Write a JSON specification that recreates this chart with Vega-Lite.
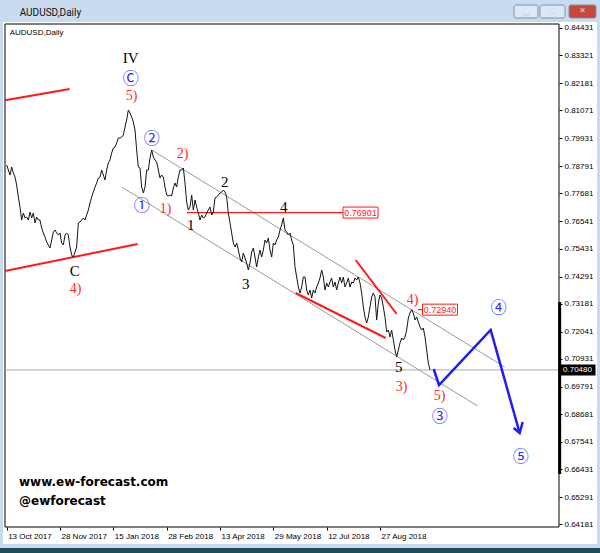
{
  "$schema": "https://vega.github.io/schema/vega-lite/v6.json",
  "width": 554,
  "height": 503,
  "autosize": {"type": "none"},
  "padding": {"left": 5, "top": 24, "right": 41, "bottom": 26},
  "background": "#ffffff",
  "config": {
    "view": {"stroke": null}
  },
  "datasets": {
    "windowParts": [
      {"part":"titleBar","bar":-6,"bar2":358,"price":0.8625,"price2":0.84675},
      {"part":"leftEdge","bar":-6,"bar2":-2.2,"price":0.8625,"price2":0.6272},
      {"part":"rightEdge","bar":354.2,"bar2":358,"price":0.8625,"price2":0.6272},
      {"part":"bottomEdge","bar":-6,"bar2":358,"price":0.63378,"price2":0.63215},
      {"part":"taskbar","bar":-6,"bar2":358,"price":0.63215,"price2":0.6272}
    ],
    "buttons": [
      {"button":"minimize","bar":304.4,"bar2":318.8,"price":0.85369,"price2":0.84839},
      {"button":"maximize","bar":320,"bar2":335,"price":0.85369,"price2":0.84839},
      {"button":"close","bar":337.4,"bar2":353.6,"price":0.85369,"price2":0.84839}
    ],
    "buttonGlyphs": [
      {"button":"minimize","bar":311.6,"price":0.8498,"label":"▬"},
      {"button":"maximize","bar":327.5,"price":0.85104,"label":"□"},
      {"button":"close","bar":345.5,"price":0.85104,"label":"✕"}
    ],
    "caption": [
      {"bar":7.8,"price":0.85063,"label":"AUDUSD,Daily"}
    ],
    "plotFrame": [
      {"bar":-1,"bar2":331.4,"price":0.84594,"price2":0.64072}
    ],
    "lastClose": [
      {"bar":-1,"bar2":331.4,"price":0.7048}
    ],
    "scaleMarker": [
      {"bar":331.8,"price":0.73251,"price2":0.66234}
    ],
    "price": [
      {"bar":0,"price":0.78841},{"bar":1,"price":0.78637},{"bar":2,"price":0.78433},{"bar":3,"price":0.78759},{"bar":4,"price":0.78515},{"bar":5,"price":0.78351},{"bar":6,"price":0.78025},{"bar":7,"price":0.77535},{"bar":8,"price":0.77127},{"bar":9,"price":0.76597},
      {"bar":10,"price":0.76883},{"bar":11,"price":0.76679},{"bar":12,"price":0.76719},{"bar":13,"price":0.76597},{"bar":14,"price":0.76923},{"bar":15,"price":0.76679},{"bar":16,"price":0.76883},{"bar":17,"price":0.76475},{"bar":18,"price":0.76719},{"bar":19,"price":0.76597},
      {"bar":20,"price":0.76597},{"bar":21,"price":0.76271},{"bar":22,"price":0.76067},{"bar":23,"price":0.75903},{"bar":24,"price":0.75699},{"bar":26,"price":0.75455},{"bar":27,"price":0.75781},{"bar":28,"price":0.76107},{"bar":29,"price":0.76189},
      {"bar":30,"price":0.76067},{"bar":31,"price":0.75985},{"bar":32,"price":0.76067},{"bar":33,"price":0.75659},{"bar":34,"price":0.75577},{"bar":35,"price":0.75985},{"bar":36,"price":0.76067},{"bar":37,"price":0.75985},{"bar":38,"price":0.75495},{"bar":39,"price":0.75169},
      {"bar":40,"price":0.75087},{"bar":41,"price":0.75291},{"bar":42,"price":0.75495},{"bar":43,"price":0.76475},{"bar":44,"price":0.76515},{"bar":45,"price":0.76597},{"bar":46,"price":0.76679},{"bar":47,"price":0.76597},{"bar":48,"price":0.76801},{"bar":49,"price":0.77005},
      {"bar":50,"price":0.77291},{"bar":51,"price":0.77535},{"bar":52,"price":0.77739},{"bar":53,"price":0.77943},{"bar":54,"price":0.78107},{"bar":55,"price":0.78311},{"bar":56,"price":0.78351},{"bar":57,"price":0.78637},{"bar":58,"price":0.78433},{"bar":59,"price":0.78229},
      {"bar":60,"price":0.78637},{"bar":61,"price":0.78923},{"bar":62,"price":0.79045},{"bar":63,"price":0.79331},{"bar":64,"price":0.79535},{"bar":65,"price":0.79575},{"bar":66,"price":0.79739},{"bar":67,"price":0.79943},{"bar":68,"price":0.79943},{"bar":69,"price":0.79983},
      {"bar":70,"price":0.80065},{"bar":71,"price":0.80391},{"bar":72,"price":0.80677},{"bar":73,"price":0.81085},{"bar":74,"price":0.80963},{"bar":75,"price":0.80799},{"bar":76,"price":0.80595},{"bar":77,"price":0.80269},{"bar":78,"price":0.79453},{"bar":79,"price":0.78759},
      {"bar":80,"price":0.78719},{"bar":81,"price":0.77943},{"bar":82,"price":0.77699},{"bar":83,"price":0.77943},{"bar":84,"price":0.78637},{"bar":85,"price":0.78637},{"bar":86,"price":0.79127},{"bar":87,"price":0.79453},{"bar":88,"price":0.79167},{"bar":89,"price":0.79045},
      {"bar":90,"price":0.78963},{"bar":91,"price":0.78637},{"bar":92,"price":0.78311},{"bar":93,"price":0.78433},{"bar":94,"price":0.78351},{"bar":95,"price":0.77943},{"bar":96,"price":0.77617},{"bar":97,"price":0.77576},{"bar":98,"price":0.77617},{"bar":99,"price":0.77576},
      {"bar":100,"price":0.77903},{"bar":101,"price":0.78107},{"bar":102,"price":0.77943},{"bar":103,"price":0.78351},{"bar":104,"price":0.78637},{"bar":105,"price":0.78637},{"bar":106,"price":0.78719},{"bar":107,"price":0.78107},{"bar":108,"price":0.77331},{"bar":109,"price":0.77005},
      {"bar":110,"price":0.77127},{"bar":111,"price":0.77617},{"bar":112,"price":0.77005},{"bar":113,"price":0.77413},{"bar":114,"price":0.77127},{"bar":115,"price":0.76883},{"bar":116,"price":0.76597},{"bar":117,"price":0.76801},{"bar":118,"price":0.76679},{"bar":119,"price":0.76719},
      {"bar":120,"price":0.76883},{"bar":121,"price":0.77005},{"bar":122,"price":0.77127},{"bar":123,"price":0.76801},{"bar":124,"price":0.76923},{"bar":125,"price":0.77495},{"bar":126,"price":0.77535},{"bar":127,"price":0.77617},{"bar":128,"price":0.77699},{"bar":129,"price":0.77739},
      {"bar":130,"price":0.77821},{"bar":131,"price":0.77739},{"bar":132,"price":0.77535},{"bar":133,"price":0.76883},{"bar":134,"price":0.76475},{"bar":135,"price":0.76067},{"bar":136,"price":0.75659},{"bar":137,"price":0.75495},{"bar":138,"price":0.75659},{"bar":139,"price":0.75373},
      {"bar":140,"price":0.75047},{"bar":141,"price":0.74883},{"bar":142,"price":0.75251},{"bar":143,"price":0.75047},{"bar":144,"price":0.74843},{"bar":145,"price":0.74557},{"bar":146,"price":0.74843},{"bar":147,"price":0.75291},{"bar":148,"price":0.75455},{"bar":149,"price":0.75087},
      {"bar":150,"price":0.74679},{"bar":151,"price":0.75087},{"bar":152,"price":0.75373},{"bar":153,"price":0.75087},{"bar":154,"price":0.75373},{"bar":155,"price":0.75781},{"bar":156,"price":0.75659},{"bar":157,"price":0.75863},{"bar":158,"price":0.75373},{"bar":159,"price":0.75087},
      {"bar":160,"price":0.75659},{"bar":161,"price":0.75577},{"bar":162,"price":0.75781},{"bar":163,"price":0.75903},{"bar":164,"price":0.76189},{"bar":165,"price":0.76393},{"bar":166,"price":0.76679},{"bar":167,"price":0.76189},{"bar":168,"price":0.76107},{"bar":169,"price":0.75985},
      {"bar":170,"price":0.76067},{"bar":171,"price":0.75781},{"bar":172,"price":0.75577},{"bar":173,"price":0.74679},{"bar":174,"price":0.74271},{"bar":175,"price":0.73863},{"bar":176,"price":0.73619},{"bar":177,"price":0.73863},{"bar":178,"price":0.74271},{"bar":179,"price":0.74271},
      {"bar":180,"price":0.73741},{"bar":181,"price":0.73537},{"bar":182,"price":0.73741},{"bar":183,"price":0.73415},{"bar":184,"price":0.73741},{"bar":185,"price":0.73619},{"bar":186,"price":0.73863},{"bar":187,"price":0.74027},{"bar":188,"price":0.74231},{"bar":189,"price":0.74557},
      {"bar":190,"price":0.74271},{"bar":191,"price":0.73741},{"bar":192,"price":0.74027},{"bar":193,"price":0.73863},{"bar":194,"price":0.74067},{"bar":195,"price":0.74231},{"bar":196,"price":0.73863},{"bar":197,"price":0.74067},{"bar":198,"price":0.73741},{"bar":199,"price":0.74027},
      {"bar":200,"price":0.74271},{"bar":201,"price":0.74027},{"bar":202,"price":0.74271},{"bar":203,"price":0.73863},{"bar":204,"price":0.74027},{"bar":205,"price":0.74231},{"bar":206,"price":0.73863},{"bar":207,"price":0.74067},{"bar":208,"price":0.74027},{"bar":209,"price":0.74231},
      {"bar":210,"price":0.74149},{"bar":211,"price":0.74271},{"bar":212,"price":0.74027},{"bar":213,"price":0.73619},{"bar":214,"price":0.73047},{"bar":215,"price":0.72639},{"bar":216,"price":0.72395},{"bar":217,"price":0.72639},{"bar":218,"price":0.73047},{"bar":219,"price":0.73455},
      {"bar":220,"price":0.73619},{"bar":221,"price":0.73455},{"bar":222,"price":0.72517},{"bar":223,"price":0.73211},{"bar":224,"price":0.73537},{"bar":225,"price":0.73415},{"bar":226,"price":0.73047},{"bar":227,"price":0.72639},{"bar":228,"price":0.72027},{"bar":229,"price":0.72109},
      {"bar":230,"price":0.71823},{"bar":231,"price":0.72109},{"bar":232,"price":0.71701},{"bar":233,"price":0.71293},{"bar":234,"price":0.71007},{"bar":235,"price":0.71293},{"bar":236,"price":0.71579},{"bar":237,"price":0.71783},{"bar":238,"price":0.71701},{"bar":239,"price":0.71823},
      {"bar":240,"price":0.72109},{"bar":241,"price":0.72599},{"bar":242,"price":0.72803},{"bar":243,"price":0.7294},{"bar":244,"price":0.72803},{"bar":245,"price":0.72517},{"bar":246,"price":0.72639},{"bar":247,"price":0.72435},{"bar":248,"price":0.72231},{"bar":249,"price":0.72109},
      {"bar":250,"price":0.72191},{"bar":251,"price":0.71823},{"bar":252,"price":0.71293},{"bar":253,"price":0.70763},{"bar":254,"price":0.7048}
    ],
    "projection": [
      {"bar":256.2,"price":0.70518},{"bar":259.4,"price":0.69865},{"bar":290.4,"price":0.72109},{"bar":307.8,"price":0.67907}
    ],
    "arrowHead": [
      {"bar":304.2,"price":0.68111},{"bar":307.8,"price":0.67907},{"bar":309.6,"price":0.68355}
    ],
    "channels": [
      {"channel":"upper","bar":87,"price":0.79453},{"channel":"upper","bar":298.8,"price":0.70599},
      {"channel":"lower","bar":69,"price":0.77943},{"channel":"lower","bar":282.6,"price":0.69008}
    ],
    "trendlines": [
      {"line":"topLeft","bar":-1,"price":0.81485},{"line":"topLeft","bar":37.8,"price":0.81942},
      {"line":"baseLeft","bar":-1,"price":0.74516},{"line":"baseLeft","bar":78.6,"price":0.75618},
      {"line":"wedgeLow","bar":173.4,"price":0.73619},{"line":"wedgeLow","bar":227.4,"price":0.71783},
      {"line":"wedgeHigh","bar":209.4,"price":0.74965},{"line":"wedgeHigh","bar":234,"price":0.72762}
    ],
    "levelLines": [
      {"level":"0.76901","bar":108.2,"price":0.76901},{"level":"0.76901","bar":201.8,"price":0.76901},
      {"level":"0.72940","bar":246.8,"price":0.7294},{"level":"0.72940","bar":249.8,"price":0.7294}
    ],
    "levelTags": [
      {"bar":212.3,"price":0.76901,"label":"0.76901"},
      {"bar":260,"price":0.7294,"label":"0.72940"}
    ],
    "waveBlack": [
      {"bar":74.4,"price":0.83207,"label":"IV"},
      {"bar":40.8,"price":0.74516,"label":"C"},
      {"bar":110.4,"price":0.76393,"label":"1"},
      {"bar":130.8,"price":0.78147,"label":"2"},
      {"bar":143.4,"price":0.73986,"label":"3"},
      {"bar":166.2,"price":0.77127,"label":"4"},
      {"bar":235.2,"price":0.70599,"label":"5"}
    ],
    "waveRed": [
      {"bar":75,"price":0.81656,"label":"5)"},
      {"bar":105.6,"price":0.7929,"label":"2)"},
      {"bar":95.4,"price":0.77046,"label":"1)"},
      {"bar":41.4,"price":0.73782,"label":"4)"},
      {"bar":243.6,"price":0.73333,"label":"4)"},
      {"bar":237,"price":0.69783,"label":"3)"},
      {"bar":259.8,"price":0.69416,"label":"5)"}
    ],
    "waveBlue": [
      {"bar":74.4,"price":0.8235,"label":"Ⓒ"},
      {"bar":87,"price":0.79902,"label":"②"},
      {"bar":81,"price":0.77168,"label":"①"},
      {"bar":259.8,"price":0.68559,"label":"③"},
      {"bar":295.2,"price":0.73007,"label":"④"},
      {"bar":308.4,"price":0.66927,"label":"⑤"}
    ],
    "brand": [
      {"bar":7.4,"price":0.65907,"label":"www.ew-forecast.com"},
      {"bar":7.4,"price":0.65132,"label":"@ewforecast"}
    ],
    "chartName": [
      {"bar":1.8,"price":0.84227,"label":"AUDUSD,Daily"}
    ],
    "lastPrice": [
      {"bar":342.5,"price":0.7048,"label":"0.70480"}
    ]
  },
  "encoding": {
    "x": {
      "field": "bar",
      "type": "quantitative",
      "title": null,
      "scale": {"domain": [-1, 331.4], "nice": false, "zero": false},
      "axis": {
        "orient": "bottom",
        "values": [0, 32, 64, 96, 128, 160, 192, 224],
        "labelExpr": "datum.value == 0 ? '13 Oct 2017' : datum.value == 32 ? '28 Nov 2017' : datum.value == 64 ? '15 Jan 2018' : datum.value == 96 ? '28 Feb 2018' : datum.value == 128 ? '13 Apr 2018' : datum.value == 160 ? '29 May 2018' : datum.value == 192 ? '12 Jul 2018' : '27 Aug 2018'",
        "labelAlign": "left",
        "labelBaseline": "top",
        "labelOffset": 1,
        "labelPadding": 2,
        "labelFont": "Liberation Sans",
        "labelFontSize": 8,
        "labelColor": "#000000",
        "tickColor": "#000000",
        "tickSize": 3,
        "domain": false,
        "grid": false
      }
    },
    "y": {
      "field": "price",
      "type": "quantitative",
      "title": null,
      "scale": {"domain": [0.64072, 0.84594], "nice": false, "zero": false},
      "axis": {
        "orient": "right",
        "values": [0.84431, 0.83321, 0.82181, 0.81071, 0.79931, 0.78791, 0.77681, 0.76541, 0.75431, 0.74291, 0.73181, 0.72041, 0.70931, 0.69791, 0.68681, 0.67541, 0.66431, 0.65291, 0.64181],
        "format": ".5f",
        "labelPadding": 2,
        "labelBaseline": "middle",
        "labelFont": "Liberation Sans",
        "labelFontSize": 8,
        "labelColor": "#000000",
        "tickColor": "#000000",
        "tickSize": 3,
        "domain": false,
        "grid": false
      }
    }
  },
  "layer": [
    {
      "data": {"name": "windowParts"},
      "mark": {"type": "rect", "clip": false},
      "encoding": {
        "x2": {"field": "bar2"},
        "y2": {"field": "price2"},
        "color": {
          "field": "part",
          "type": "nominal",
          "legend": null,
          "scale": {"domain": ["titleBar", "leftEdge", "rightEdge", "bottomEdge", "taskbar"], "range": ["#c8dbef", "#c8dbef", "#c8dbef", "#c8dbef", "#1f4b5a"]}
        }
      }
    },
    {
      "data": {"name": "buttons"},
      "mark": {"type": "rect", "stroke": "#7d93b0", "strokeWidth": 1, "cornerRadius": 2, "clip": false},
      "encoding": {
        "x2": {"field": "bar2"},
        "y2": {"field": "price2"},
        "fill": {
          "field": "button",
          "type": "nominal",
          "legend": null,
          "scale": {"domain": ["minimize", "maximize", "close"], "range": ["#dde8f4", "#dde8f4", "#c8473b"]}
        }
      }
    },
    {
      "data": {"name": "buttonGlyphs"},
      "mark": {"type": "text", "font": "DejaVu Sans", "fontSize": 8, "fontWeight": "bold", "align": "center", "baseline": "middle", "clip": false},
      "encoding": {
        "text": {"field": "label"},
        "color": {
          "field": "button",
          "type": "nominal",
          "legend": null,
          "scale": {"domain": ["minimize", "maximize", "close"], "range": ["#3b4b63", "#3b4b63", "#ffffff"]}
        }
      }
    },
    {
      "data": {"name": "caption"},
      "mark": {"type": "text", "font": "Roboto", "fontSize": 10, "color": "#111111", "align": "left", "baseline": "middle", "clip": false},
      "encoding": {"text": {"field": "label"}}
    },
    {
      "data": {"name": "plotFrame"},
      "mark": {"type": "rect", "fill": "transparent", "stroke": "#000000", "strokeWidth": 1, "clip": false},
      "encoding": {"x2": {"field": "bar2"}, "y2": {"field": "price2"}}
    },
    {
      "data": {"name": "lastClose"},
      "mark": {"type": "rule", "color": "#a8a8a8", "strokeWidth": 1},
      "encoding": {"x2": {"field": "bar2"}}
    },
    {
      "data": {"name": "channels"},
      "mark": {"type": "line", "color": "#9a9a9a", "strokeWidth": 1},
      "encoding": {"detail": {"field": "channel"}}
    },
    {
      "data": {"name": "trendlines"},
      "mark": {"type": "line", "color": "#ff1a1a", "strokeWidth": 2},
      "encoding": {"detail": {"field": "line"}}
    },
    {
      "data": {"name": "levelLines"},
      "mark": {"type": "line", "color": "#ff1a1a", "strokeWidth": 1.2},
      "encoding": {"detail": {"field": "level"}}
    },
    {
      "data": {"name": "price"},
      "mark": {"type": "line", "color": "#151515", "strokeWidth": 1},
      "encoding": {}
    },
    {
      "data": {"name": "projection"},
      "mark": {"type": "line", "color": "#1e1ef0", "strokeWidth": 2.5},
      "encoding": {}
    },
    {
      "data": {"name": "arrowHead"},
      "mark": {"type": "line", "color": "#1e1ef0", "strokeWidth": 2.5},
      "encoding": {}
    },
    {
      "data": {"name": "levelTags"},
      "mark": {"type": "point", "shape": "M-1,-0.314L1,-0.314L1,0.314L-1,0.314Z", "size": 1225, "filled": true, "fill": "#ffffff", "stroke": "#ff1a1a", "strokeWidth": 1, "opacity": 1},
      "encoding": {}
    },
    {
      "data": {"name": "levelTags"},
      "mark": {"type": "text", "font": "Liberation Sans", "fontSize": 9, "color": "#ff1a1a", "align": "center", "baseline": "middle"},
      "encoding": {"text": {"field": "label"}}
    },
    {
      "data": {"name": "lastPrice"},
      "mark": {"type": "point", "shape": "M-1,-0.306L1,-0.306L1,0.306L-1,0.306Z", "size": 1296, "filled": true, "color": "#000000", "opacity": 1, "clip": false},
      "encoding": {}
    },
    {
      "data": {"name": "lastPrice"},
      "mark": {"type": "text", "font": "Liberation Sans", "fontSize": 8, "color": "#ffffff", "align": "center", "baseline": "middle", "clip": false},
      "encoding": {"text": {"field": "label"}}
    },
    {
      "data": {"name": "scaleMarker"},
      "mark": {"type": "rule", "color": "#000000", "strokeWidth": 3, "clip": false},
      "encoding": {"y2": {"field": "price2"}}
    },
    {
      "data": {"name": "waveBlack"},
      "mark": {"type": "text", "font": "Liberation Serif", "fontSize": 15, "color": "#000000", "align": "center", "baseline": "middle"},
      "encoding": {"text": {"field": "label"}}
    },
    {
      "data": {"name": "waveRed"},
      "mark": {"type": "text", "font": "Liberation Serif", "fontSize": 14, "color": "#ff2a2a", "align": "center", "baseline": "middle"},
      "encoding": {"text": {"field": "label"}}
    },
    {
      "data": {"name": "waveBlue"},
      "mark": {"type": "text", "font": "Noto Sans CJK JP", "fontSize": 16, "color": "#2a2aff", "align": "center", "baseline": "middle"},
      "encoding": {"text": {"field": "label"}}
    },
    {
      "data": {"name": "brand"},
      "mark": {"type": "text", "font": "DejaVu Sans", "fontWeight": "bold", "fontSize": 12, "color": "#000000", "align": "left", "baseline": "middle"},
      "encoding": {"text": {"field": "label"}}
    },
    {
      "data": {"name": "chartName"},
      "mark": {"type": "text", "font": "Liberation Sans", "fontSize": 8, "color": "#000000", "align": "left", "baseline": "middle"},
      "encoding": {"text": {"field": "label"}}
    }
  ]
}
